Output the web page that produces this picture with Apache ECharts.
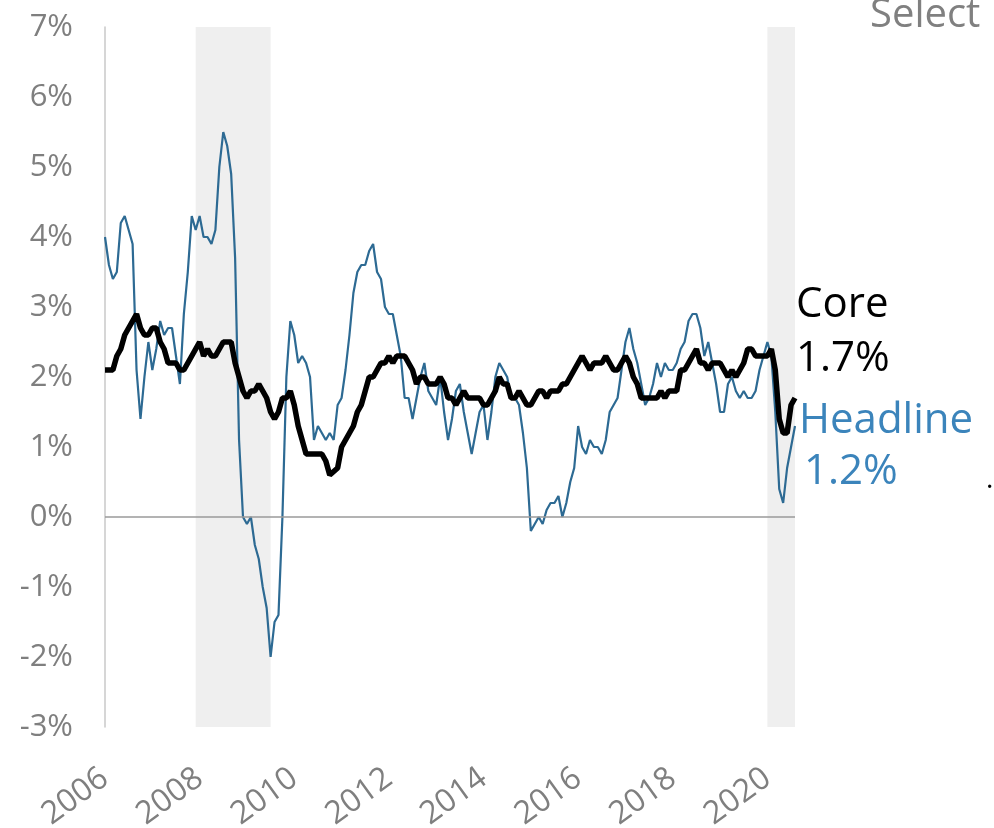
<!DOCTYPE html>
<html>
<head>
<meta charset="utf-8">
<script src="https://cdn.jsdelivr.net/npm/echarts@6/dist/echarts.min.js"></script>
<style>
  html, body { margin: 0; padding: 0; background: #fff; }
  #chart { width: 994px; height: 828px; }
</style>
</head>
<body>
<div id="chart"></div>
<script>
// monthly YoY inflation, Jan 2006 - Aug 2020
var startYear = 2006;
var endYear = 2020;
var endMonth = 8;

var headline = [
  4.0, 3.6, 3.4, 3.5, 4.2, 4.3, 4.1, 3.9, 2.1, 1.4, 2.0, 2.5,   // 2006
  2.1, 2.4, 2.8, 2.6, 2.7, 2.7, 2.3, 1.9, 2.9, 3.5, 4.3, 4.1,   // 2007
  4.3, 4.0, 4.0, 3.9, 4.1, 5.0, 5.5, 5.3, 4.9, 3.7, 1.1, 0.0,   // 2008
  -0.1, 0.0, -0.4, -0.6, -1.0, -1.3, -2.0, -1.5, -1.4, 0.0, 2.0, 2.8,  // 2009
  2.6, 2.2, 2.3, 2.2, 2.0, 1.1, 1.3, 1.2, 1.1, 1.2, 1.1, 1.6,   // 2010
  1.7, 2.1, 2.6, 3.2, 3.5, 3.6, 3.6, 3.8, 3.9, 3.5, 3.4, 3.0,   // 2011
  2.9, 2.9, 2.6, 2.3, 1.7, 1.7, 1.4, 1.7, 2.0, 2.2, 1.8, 1.7,   // 2012
  1.6, 2.0, 1.5, 1.1, 1.4, 1.8, 1.9, 1.5, 1.2, 0.9, 1.2, 1.5,   // 2013
  1.6, 1.1, 1.5, 2.0, 2.2, 2.1, 2.0, 1.7, 1.7, 1.6, 1.2, 0.7,   // 2014
  -0.2, -0.1, 0.0, -0.1, 0.1, 0.2, 0.2, 0.3, 0.0, 0.2, 0.5, 0.7,   // 2015
  1.3, 1.0, 0.9, 1.1, 1.0, 1.0, 0.9, 1.1, 1.5, 1.6, 1.7, 2.1,   // 2016
  2.5, 2.7, 2.4, 2.2, 1.9, 1.6, 1.7, 1.9, 2.2, 2.0, 2.2, 2.1,   // 2017
  2.1, 2.2, 2.4, 2.5, 2.8, 2.9, 2.9, 2.7, 2.3, 2.5, 2.2, 1.9,   // 2018
  1.5, 1.5, 1.9, 2.0, 1.8, 1.7, 1.8, 1.7, 1.7, 1.8, 2.1, 2.3,   // 2019
  2.5, 2.3, 1.5, 0.4, 0.2, 0.7, 1.0, 1.3                        // 2020
];

var core = [
  2.1, 2.1, 2.1, 2.3, 2.4, 2.6, 2.7, 2.8, 2.9, 2.7, 2.6, 2.6,   // 2006
  2.7, 2.7, 2.5, 2.4, 2.2, 2.2, 2.2, 2.1, 2.1, 2.2, 2.3, 2.4,   // 2007
  2.5, 2.3, 2.4, 2.3, 2.3, 2.4, 2.5, 2.5, 2.5, 2.2, 2.0, 1.8,   // 2008
  1.7, 1.8, 1.8, 1.9, 1.8, 1.7, 1.5, 1.4, 1.5, 1.7, 1.7, 1.8,   // 2009
  1.6, 1.3, 1.1, 0.9, 0.9, 0.9, 0.9, 0.9, 0.8, 0.6, 0.65, 0.7,  // 2010
  1.0, 1.1, 1.2, 1.3, 1.5, 1.6, 1.8, 2.0, 2.0, 2.1, 2.2, 2.2,   // 2011
  2.3, 2.2, 2.3, 2.3, 2.3, 2.2, 2.1, 1.9, 2.0, 2.0, 1.9, 1.9,   // 2012
  1.9, 2.0, 1.9, 1.7, 1.7, 1.6, 1.7, 1.8, 1.7, 1.7, 1.7, 1.7,   // 2013
  1.6, 1.6, 1.7, 1.8, 2.0, 1.9, 1.9, 1.7, 1.7, 1.8, 1.7, 1.6,   // 2014
  1.6, 1.7, 1.8, 1.8, 1.7, 1.8, 1.8, 1.8, 1.9, 1.9, 2.0, 2.1,   // 2015
  2.2, 2.3, 2.2, 2.1, 2.2, 2.2, 2.2, 2.3, 2.2, 2.1, 2.1, 2.2,   // 2016
  2.3, 2.2, 2.0, 1.9, 1.7, 1.7, 1.7, 1.7, 1.7, 1.8, 1.7, 1.8,   // 2017
  1.8, 1.8, 2.1, 2.1, 2.2, 2.3, 2.4, 2.2, 2.2, 2.1, 2.2, 2.2,   // 2018
  2.2, 2.1, 2.0, 2.1, 2.0, 2.1, 2.2, 2.4, 2.4, 2.3, 2.3, 2.3,   // 2019
  2.3, 2.4, 2.1, 1.4, 1.2, 1.2, 1.6, 1.7                        // 2020
];

var recessions = [
  ["2007-12", "2009-07"],
  ["2020-01", "2020-08"]
];

var yTicks = { min: -3, max: 7, step: 1 };

var months = [];
for (var y = startYear; y <= endYear; y++) {
  for (var m = 1; m <= 12; m++) {
    if (y === endYear && m > endMonth) break;
    months.push(y + "-" + (m < 10 ? "0" + m : m));
  }
}

var font = "'Open Sans', Lato, sans-serif";
var grey = "#7f7f7f";

var myChart = echarts.init(document.getElementById("chart"));

var option = {
  animation: false,
  grid: { left: 105, right: 199, top: 27, bottom: 101, outerBoundsMode: "none" },
  xAxis: {
    type: "category",
    data: months,
    boundaryGap: false,
    axisLine: { show: false },
    axisTick: { show: false },
    splitLine: { show: false },
    axisLabel: {
      rotate: 36,
      margin: 48,
      color: grey,
      fontSize: 32,
      fontFamily: font,
      interval: function (idx, val) {
        return val.slice(5) === "01" && (+val.slice(0, 4)) % 2 === 0;
      },
      formatter: function (val) { return val.slice(0, 4); }
    }
  },
  yAxis: {
    type: "value",
    min: yTicks.min,
    max: yTicks.max,
    interval: yTicks.step,
    axisLine: { show: true, lineStyle: { color: "#c8c8c8", width: 1.5 } },
    axisTick: { show: false },
    splitLine: { show: false },
    axisLabel: {
      margin: 32,
      color: grey,
      fontSize: 31,
      fontFamily: font,
      formatter: "{value}%"
    }
  },
  series: [
    {
      name: "Headline",
      type: "line",
      data: headline,
      symbol: "none",
      lineStyle: { color: "#2d6a93", width: 2.2 },
      z: 3,
      markArea: {
        silent: true,
        itemStyle: { color: "#efefef" },
        data: recessions.map(function (r) {
          return [{ xAxis: r[0] }, { xAxis: r[1] }];
        })
      },
      markLine: {
        silent: true,
        symbol: "none",
        label: { show: false },
        lineStyle: { color: "#9a9a9a", width: 1.5, type: "solid" },
        data: [{ yAxis: 0 }]
      }
    },
    {
      name: "Core",
      type: "line",
      data: core,
      symbol: "none",
      lineStyle: { color: "#000000", width: 5.5 },
      z: 4
    }
  ],
  graphic: [
    { type: "text", left: 796, top: 284, style: { text: "Core", fill: "#000", font: "42px " + font } },
    { type: "text", left: 796, top: 338, style: { text: "1.7%", fill: "#000", font: "42px " + font } },
    { type: "text", left: 799, top: 400, style: { text: "Headline", fill: "#3b84bb", font: "42px " + font } },
    { type: "text", left: 804, top: 451, style: { text: "1.2%", fill: "#3b84bb", font: "42px " + font } },
    { type: "text", left: 870, top: -4, style: { text: "Select", fill: "#808080", font: "40px " + font } },
    { type: "text", left: 986, top: 466, style: { text: ".", fill: "#000", font: "28px " + font } }
  ]
};

myChart.setOption(option);
</script>
</body>
</html>
